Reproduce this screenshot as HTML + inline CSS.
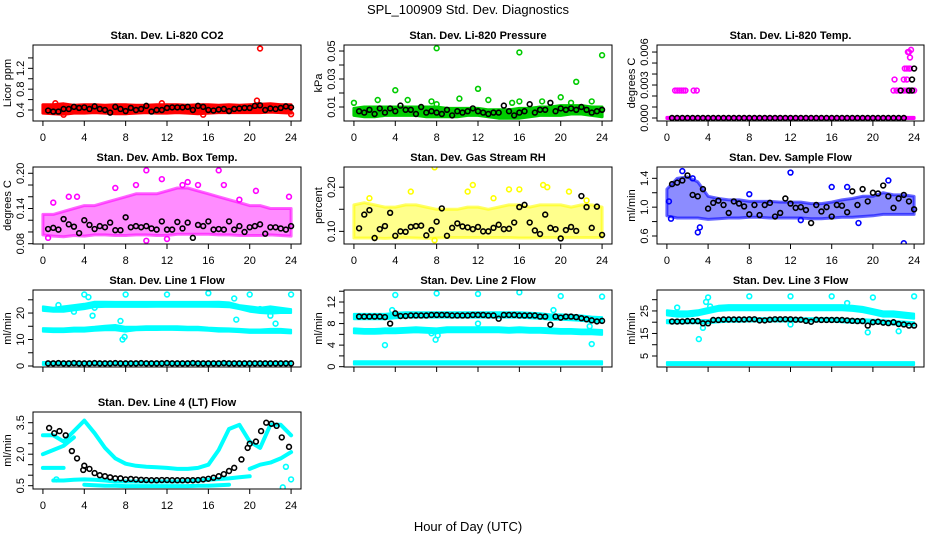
<!DOCTYPE html>
<html><head><meta charset="utf-8"><style>
html,body{margin:0;padding:0;background:#fff;}
svg{display:block;font-family:"Liberation Sans",Arial,sans-serif;}
</style></head><body>
<svg id="chart" width="936" height="540" viewBox="0 0 936 540" xmlns="http://www.w3.org/2000/svg">
<rect x="0" y="0" width="936" height="540" fill="#fff"/>
<text x="468" y="14" text-anchor="middle" font-size="13">SPL_100909  Std. Dev. Diagnostics</text>
<text x="468" y="531" text-anchor="middle" font-size="13">Hour of Day (UTC)</text>
</svg>
<script>
// ---- data (hourly envelope arrays 0..24, half-hour black series 0.5..24) ----
const xTicks = [0,4,8,12,16,20,24];
const co2Lo = [0.34,0.33,0.32,0.34,0.34,0.35,0.34,0.33,0.33,0.34,0.35,0.34,0.34,0.35,0.34,0.33,0.34,0.35,0.35,0.35,0.35,0.35,0.36,0.35,0.34];
const co2Hi = [0.5,0.5,0.52,0.49,0.5,0.5,0.49,0.5,0.5,0.49,0.49,0.5,0.5,0.5,0.49,0.5,0.5,0.49,0.5,0.49,0.5,0.51,0.52,0.5,0.5];
const co2Out = [[21,1.58],[20.7,0.58],[1.2,0.53],[11.5,0.53],[24,0.32],[2,0.31],[15.5,0.31]];
const co2Black = [0.39,0.37,0.37,0.42,0.42,0.46,0.44,0.45,0.42,0.47,0.42,0.4,0.35,0.46,0.42,0.38,0.44,0.4,0.42,0.48,0.37,0.4,0.4,0.44,0.45,0.45,0.45,0.46,0.4,0.48,0.46,0.4,0.39,0.41,0.42,0.38,0.42,0.43,0.44,0.44,0.48,0.49,0.4,0.43,0.42,0.44,0.47,0.45];

const presLo = [0.004,0.003,0.003,0.004,0.004,0.004,0.004,0.003,0.003,0.003,0.003,0.004,0.004,0.003,0.002,0.002,0.002,0.003,0.004,0.004,0.004,0.005,0.005,0.004,0.003];
const presHi = [0.009,0.010,0.010,0.010,0.010,0.010,0.010,0.010,0.010,0.009,0.009,0.009,0.009,0.008,0.008,0.008,0.009,0.009,0.010,0.010,0.011,0.011,0.011,0.010,0.010];
const presOut = [[8,0.052],[16,0.049],[24,0.047],[21.5,0.028],[4,0.022],[12,0.023],[0,0.013],[2.3,0.015],[5.2,0.015],[7.5,0.014],[10.2,0.016],[13,0.015],[15.3,0.013],[16,0.014],[18.2,0.014],[20,0.017],[23,0.014],[8,0.012],[21,0.013]];
const presBlack = [0.007,0.006,0.008,0.005,0.009,0.006,0.009,0.007,0.011,0.008,0.008,0.005,0.010,0.006,0.007,0.006,0.005,0.008,0.004,0.007,0.006,0.007,0.009,0.007,0.006,0.005,0.006,0.006,0.011,0.007,0.004,0.006,0.007,0.012,0.006,0.008,0.008,0.013,0.007,0.009,0.008,0.009,0.008,0.010,0.008,0.006,0.007,0.008];

const tempLo = [-0.00005,-0.00005,-0.00005,-0.00005,-0.00005,-0.00005,-0.00005,-0.00005,-0.00005,-0.00005,-0.00005,-0.00005,-0.00005,-0.00005,-0.00005,-0.00005,-0.00005,-0.00005,-0.00005,-0.00005,-0.00005,-0.00005,-0.00005,-0.00005,-0.00005];
const tempHi = [0.00005,0.00005,0.00005,0.00005,0.00005,0.00005,0.00005,0.00005,0.00005,0.00005,0.00005,0.00005,0.00005,0.00005,0.00005,0.00005,0.00005,0.00005,0.00005,0.00005,0.00005,0.00005,0.00005,0.00005,0.00005];
const tempOut = [[0.8,0.0025],[1,0.0025],[1.2,0.0025],[1.4,0.0025],[1.6,0.0025],[1.8,0.0025],[2.6,0.0025],[2.9,0.0025],[22,0.0025],[22.3,0.0025],[22.6,0.0025],[23,0.0025],[23.3,0.0025],[23.6,0.0025],[24,0.0025],[22.1,0.0035],[23,0.0035],[23.3,0.0035],[23.1,0.0045],[23.3,0.0045],[23.5,0.0045],[23.6,0.0045],[23.6,0.0055],[23.5,0.006],[23.7,0.0062],[23.4,0.006]];
const tempBlack = [0,0,0,0,0,0,0,0,0,0,0,0,0,0,0,0,0,0,0,0,0,0,0,0,0,0,0,0,0,0,0,0,0,0,0,0,0,0,0,0,0,0,0,0,0,0,0.0025,0.0045];
const tempBlackExtra = [[22.7,0.0025],[23.8,0.0035],[23.8,0.0025]];

const ambLo = [0.095,0.093,0.092,0.094,0.093,0.095,0.095,0.094,0.094,0.095,0.095,0.094,0.094,0.096,0.096,0.096,0.096,0.095,0.095,0.094,0.094,0.094,0.095,0.094,0.093];
const ambHi = [0.13,0.13,0.135,0.14,0.145,0.145,0.15,0.155,0.16,0.165,0.165,0.165,0.17,0.175,0.175,0.17,0.165,0.16,0.155,0.15,0.145,0.145,0.14,0.14,0.14];
const ambOut = [[10,0.205],[17,0.205],[1,0.15],[2.5,0.16],[3.3,0.16],[10,0.085],[12,0.088],[23.8,0.16],[9,0.18],[14,0.185],[17.5,0.18],[20.6,0.17],[13.5,0.18],[11.5,0.19],[15,0.18],[7,0.175],[19,0.155],[0.5,0.09]];
const ambBlack = [0.105,0.107,0.104,0.122,0.113,0.109,0.098,0.12,0.112,0.105,0.11,0.108,0.116,0.103,0.103,0.125,0.108,0.11,0.108,0.11,0.106,0.104,0.118,0.104,0.104,0.117,0.106,0.116,0.09,0.112,0.11,0.118,0.104,0.105,0.104,0.118,0.104,0.11,0.1,0.108,0.11,0.113,0.097,0.108,0.108,0.106,0.104,0.11];

const rhLo = [0.085,0.085,0.085,0.084,0.085,0.086,0.085,0.084,0.085,0.086,0.086,0.086,0.086,0.086,0.086,0.086,0.085,0.085,0.086,0.086,0.086,0.086,0.086,0.086,0.086];
const rhHi = [0.16,0.165,0.16,0.155,0.155,0.16,0.16,0.155,0.15,0.15,0.15,0.155,0.155,0.15,0.155,0.16,0.16,0.155,0.16,0.16,0.16,0.155,0.16,0.16,0.155];
const rhOut = [[7.8,0.245],[11.5,0.205],[5.5,0.19],[18.3,0.205],[15,0.195],[20.8,0.19],[1.5,0.175],[13.5,0.175],[7.8,0.08],[2,0.085],[22.5,0.17],[16,0.195],[11,0.19],[18.7,0.2]];
const rhBlack = [0.107,0.138,0.148,0.085,0.105,0.112,0.142,0.09,0.1,0.099,0.11,0.112,0.113,0.091,0.103,0.122,0.152,0.09,0.108,0.118,0.111,0.109,0.105,0.11,0.1,0.1,0.108,0.115,0.105,0.106,0.12,0.155,0.16,0.12,0.102,0.094,0.138,0.108,0.105,0.084,0.103,0.11,0.101,0.18,0.155,0.108,0.156,0.092];

const sfLo = [0.88,0.85,0.85,0.85,0.83,0.84,0.85,0.85,0.86,0.86,0.85,0.85,0.85,0.85,0.84,0.84,0.85,0.86,0.86,0.87,0.88,0.9,0.9,0.9,0.9];
const sfHi = [1.25,1.4,1.42,1.35,1.15,1.12,1.1,1.1,1.08,1.08,1.08,1.07,1.07,1.07,1.05,1.05,1.07,1.1,1.12,1.15,1.15,1.2,1.17,1.17,1.15];
const sfOut = [[12,1.48],[23,0.5],[3,0.65],[3.2,0.72],[1.5,1.5],[16,1.28],[21.5,1.37],[0.4,0.84],[8,1.18],[17.5,1.28],[2.5,1.4],[0.2,1.08],[13,0.82],[18.6,0.78]];
const sfBlack = [1.32,1.34,1.37,1.44,1.17,1.15,1.25,0.98,1.06,1.09,1.03,0.92,1.08,1.05,1.01,0.9,1.03,0.89,1.03,1.06,0.87,0.92,1.12,1.05,0.99,1.0,0.96,0.78,1.03,0.94,1.0,0.87,1.03,1.02,0.93,1.22,1.03,1.25,1.08,1.2,1.19,1.3,1.15,0.99,1.12,1.17,1.08,0.97];

const l1TopLo = [20.8,20.5,20.5,21,21.5,22.2,22.3,22.3,22.3,22.3,22.3,22.4,22.4,22.4,22.4,22.4,22.4,22.3,22.2,21.5,20.5,20,19.8,20,20];
const l1TopHi = [22.5,22,22.5,23,23.5,24.3,24.3,24.2,24.2,24.2,24.2,24.2,24.2,24.2,24.2,24.2,24.2,24.3,24,23,22.5,22,22.5,22,21.5];
const l1MidLo = [13,12.8,12.8,13,13,13.3,13.5,13.5,13,13.5,13.6,13.6,13.7,13.6,13.5,13.5,13.3,13,13,12.8,12.5,12.5,12.5,12.5,12.3];
const l1MidHi = [14.3,14.2,14.2,14.5,14.5,14.8,15.2,15.5,14.8,14.8,15,15,15,15,14.8,14.8,14.5,14.3,14.2,14,13.8,13.8,14,14,13.7];
const l1BotLo = [0.4,0.4,0.4,0.4,0.4,0.4,0.4,0.4,0.4,0.4,0.4,0.4,0.4,0.4,0.4,0.4,0.4,0.4,0.4,0.4,0.4,0.4,0.4,0.4,0.4];
const l1BotHi = [1.5,1.5,1.5,1.5,1.5,1.5,1.5,1.5,1.5,1.5,1.5,1.5,1.5,1.5,1.5,1.5,1.5,1.5,1.5,1.5,1.5,1.5,1.5,1.5,1.5];
const l1Out = [[4,27],[8,27],[12,27],[16,27.5],[20,27],[24,27],[18.5,25.5],[4.4,26],[5,22],[4.8,19],[7.5,17],[7.7,10],[7.9,11],[18.7,17.5],[22.5,16],[22,19],[21,21.5],[1.5,23],[3,20.5]];
const l1Black = [1,1,1.1,1,1,1.1,1,1,1,1.1,1,1,1,1.1,1,1,1,1,1.1,1,1,1,1,1.1,1,1,1,1,1.1,1,1,1,1,1,1.1,1,1,1,1,1,1,1,1,1,1,1,1,1];

const l2TopLo = [8.8,8.8,8.8,8.8,9.0,9.1,9.1,9.1,9.1,9.1,9.1,9.1,9.1,9.1,9.1,9.1,9.1,9.0,8.9,8.7,8.7,8.6,8.5,8.3,8.2];
const l2TopHi = [9.8,9.8,9.8,9.8,10.0,10.1,10.1,10.1,10.1,10.1,10.1,10.1,10.1,10.1,10.1,10.1,10.1,10.0,9.9,9.7,9.7,9.6,9.5,9.3,9.2];
const l2MidLo = [6.2,6.1,6.1,6.2,6.2,6.3,6.4,6.3,6.2,6.4,6.4,6.4,6.4,6.4,6.4,6.3,6.4,6.3,6.3,6.2,6.1,6.1,6,6,5.9];
const l2MidHi = [7.1,7.0,7.0,7.1,7.1,7.2,7.3,7.2,7.1,7.3,7.3,7.3,7.3,7.3,7.3,7.2,7.3,7.2,7.2,7.1,7.0,7.0,6.9,6.9,6.8];
const l2BotLo = [0.4,0.4,0.4,0.4,0.4,0.4,0.4,0.4,0.4,0.4,0.4,0.4,0.4,0.4,0.4,0.4,0.4,0.4,0.4,0.4,0.4,0.4,0.4,0.4,0.4];
const l2BotHi = [1,1,1,1,1,1,1,1,1,1,1,1,1,1,1,1,1,1,1,1,1,1,1,1,1];
const l2Out = [[4,13.3],[8,13.6],[12,13.5],[16,13.8],[20,13.1],[24,13],[3,4],[7.9,5],[8.1,5.8],[23,4.2],[19.3,10.5],[12,8],[22.8,7.5],[3.7,10.5],[7.5,6.2]];
const l2Black = [9.3,9.3,9.3,9.3,9.3,9.2,8.0,9.9,9.4,9.4,9.5,9.5,9.5,9.5,9.6,9.6,9.6,9.6,9.5,9.5,9.5,9.5,9.6,9.6,9.6,9.5,9.5,8.9,9.6,9.6,9.6,9.5,9.5,9.5,9.5,9.3,9.3,7.8,9.3,9.1,9.3,9.3,9.2,9.0,8.8,8.6,8.4,8.5];

const l3TopLo = [23,22.5,22.5,23,24,25,25.3,25.3,25.3,25.3,25.3,25.3,25.3,25.3,25.3,25.3,25.3,25.3,25,24.5,23.5,22.5,22.5,22,21.5];
const l3TopHi = [25.3,24.8,24.8,25.3,26.3,27.3,27.6,27.6,27.6,27.6,27.6,27.6,27.6,27.6,27.6,27.6,27.6,27.6,27.3,26.8,25.8,24.8,24.8,24.3,23.8];
const l3MidLo = [19.5,19.5,19.5,19.5,19.5,20,20.2,20.2,20.3,20.3,20.3,20.3,20.3,20.3,20.3,20.3,20.3,20,19.8,19.8,19.6,19.4,19,18.8,18.5];
const l3MidHi = [21,21,21,21,21,21.5,21.7,21.7,21.8,21.8,21.8,21.8,21.8,21.8,21.8,21.8,21.8,21.5,21.3,21.3,21.1,20.9,20.5,20.3,20];
const l3BotLo = [1,1,1,1,1,1,1,1,1,1,1,1,1,1,1,1,1,1,1,1,1,1,1,1,1];
const l3BotHi = [2.3,2.3,2.3,2.3,2.3,2.3,2.3,2.3,2.3,2.3,2.3,2.3,2.3,2.3,2.3,2.3,2.3,2.3,2.3,2.3,2.3,2.3,2.3,2.3,2.3];
const l3Out = [[4,31],[8,31.5],[12,31.5],[16,31.5],[20,31],[24,31.5],[3.1,12.5],[3.5,17.5],[19.5,15.5],[22.5,16],[3.8,29],[1,26.5],[17.5,28.5],[12,19],[4.2,27]];
const l3Black = [20.3,20.3,20.3,20.5,20.5,20.5,19.5,19.5,21,21,21.2,21.2,21.2,21.2,21.2,21.3,21.3,20.8,20.8,21.1,21.3,21.3,21.3,21.3,21.1,21.1,20.6,20.2,21.1,21,21,21,21,21,20.8,20.6,20.5,20.5,18.5,20,20.2,19.8,19.6,20,19.2,19,18.5,18.5];

const l4TraceA = [2.9,2.9,2.6,3.1,3.6,3.0,2.3,1.8,1.55,1.45,1.4,1.38,1.35,1.3,1.3,1.35,1.5,2.2,3.2,3.4,2.6,2.3,3.4,3.4,2.9];
const l4TraceB = [2.0,2.2,2.4,2.8,null,null,null,null,null,null,null,null,null,null,null,null,null,null,null,null,null,null,null,null,null];
const l4TraceC = [1.35,1.35,1.35,null,null,null,null,null,null,null,null,null,null,null,null,null,null,null,null,null,null,null,null,null,null];
const l4TraceD = [null,0.75,0.75,0.78,0.8,0.78,0.75,0.7,0.7,0.7,0.7,0.7,0.7,0.7,0.72,0.75,0.78,0.82,0.85,0.9,0.95,null,null,null,null];
const l4TraceE = [null,null,null,null,0.55,0.52,0.5,0.5,0.48,0.48,0.48,0.48,0.48,0.48,0.48,0.5,0.5,0.52,0.55,null,null,null,null,null,null];
const l4TraceF = [null,null,null,null,null,null,null,null,null,null,null,null,null,null,null,null,null,null,null,null,1.3,1.5,1.6,1.8,2.1];
const l4Out = [[23.2,0.42],[24,0.8],[1.3,0.8],[23.5,1.4]];
const l4BlackX = [0.6,1.1,1.6,2.2,2.8,3.3,3.9,4,4.5,5,5.5,6,6.5,7,7.5,8,8.5,9,9.5,10,10.5,11,11.5,12,12.5,13,13.5,14,14.5,15,15.5,16,16.5,17,17.5,18,18.5,19.2,19.8,20,20.6,21.1,21.6,22.1,22.6,23.1,23.8];
const l4BlackY = [3.25,3.0,3.1,2.9,2.15,1.8,1.25,1.45,1.3,1.1,1.0,0.95,0.9,0.85,0.85,0.8,0.82,0.8,0.78,0.77,0.76,0.76,0.77,0.77,0.76,0.76,0.76,0.76,0.76,0.77,0.8,0.83,0.88,0.95,1.05,1.2,1.35,1.75,2.3,2.5,2.6,3.1,3.5,3.45,3.35,2.8,2.35];

// ---- drawing ----
const NS = 'http://www.w3.org/2000/svg';
const svg = document.getElementById('chart');
function mk(tag, attrs, parent){ const e=document.createElementNS(NS,tag); for(const k in attrs) e.setAttribute(k,attrs[k]); (parent||svg).appendChild(e); return e; }
const hours = []; for(let h=0;h<=24;h++) hours.push(h);
const halfHours = []; for(let i=1;i<=48;i++) halfHours.push(i*0.5);

const COLS=[[33,301],[344,612],[657,924]];
const ROWS=[[45,121],[167,244],[290,367],[412,489]];

const panels = [
 {id:'co2',title:'Stan. Dev. Li-820 CO2',ylab:'Licor ppm',c:0,r:0,dom:[0.189,1.648],ticks:[0.4,0.6,0.8,1.0,1.2,1.4],labels:[0.4,0.8,1.2],fmt:1,color:'#ff0000',bands:[[co2Lo,co2Hi]],out:co2Out,black:co2Black},
 {id:'pressure',title:'Stan. Dev. Li-820 Pressure',ylab:'kPa',c:1,r:0,dom:[0.0,0.0543],ticks:[0.01,0.02,0.03,0.04,0.05],labels:[0.01,0.03,0.05],fmt:2,color:'#00cc00',bands:[[presLo,presHi]],out:presOut,black:presBlack},
 {id:'temp',title:'Stan. Dev. Li-820 Temp.',ylab:'degrees C',c:2,r:0,dom:[-0.000273,0.00664],ticks:[0,0.001,0.002,0.003,0.004,0.005,0.006],labels:[0,0.003,0.006],fmt:3,color:'#ff00ff',bands:[[tempLo,tempHi]],out:tempOut,black:tempBlack,extra:tempBlackExtra},
 {id:'amb-box-temp',title:'Stan. Dev. Amb. Box Temp.',ylab:'degrees C',c:0,r:1,dom:[0.0795,0.2107],ticks:[0.08,0.10,0.12,0.14,0.16,0.18,0.20],labels:[0.08,0.14,0.20],fmt:2,color:'#ff00ff',bands:[[ambLo,ambHi]],out:ambOut,black:ambBlack,sparse:true},
 {id:'gas-stream-rh',title:'Stan. Dev. Gas Stream RH',ylab:'percent',c:1,r:1,dom:[0.0714,0.2457],ticks:[0.10,0.15,0.20],labels:[0.10,0.20],fmt:2,color:'#ffff00',bands:[[rhLo,rhHi]],out:rhOut,black:rhBlack,sparse:true},
 {id:'sample-flow',title:'Stan. Dev. Sample Flow',ylab:'ml/min',c:2,r:1,dom:[0.489,1.557],ticks:[0.6,0.8,1.0,1.2,1.4],labels:[0.6,1.0,1.4],fmt:1,color:'#0000ff',bands:[[sfLo,sfHi]],out:sfOut,black:sfBlack,sparse:true},
 {id:'line1-flow',title:'Stan. Dev. Line 1 Flow',ylab:'ml/min',c:0,r:2,dom:[-0.38,28.7],ticks:[0,5,10,15,20,25],labels:[0,10,20],fmt:0,color:'#00ffff',bands:[[l1TopLo,l1TopHi],[l1MidLo,l1MidHi],[l1BotLo,l1BotHi]],out:l1Out,black:l1Black,thin:true},
 {id:'line2-flow',title:'Stan. Dev. Line 2 Flow',ylab:'ml/min',c:1,r:2,dom:[-0.06,14.23],ticks:[0,2,4,6,8,10,12,14],labels:[0,4,8,12],fmt:0,color:'#00ffff',bands:[[l2TopLo,l2TopHi],[l2MidLo,l2MidHi],[l2BotLo,l2BotHi]],out:l2Out,black:l2Black,thin:true},
 {id:'line3-flow',title:'Stan. Dev. Line 3 Flow',ylab:'ml/min',c:2,r:2,dom:[0.11,34.3],ticks:[5,10,15,20,25,30],labels:[5,15,25],fmt:0,color:'#00ffff',bands:[[l3TopLo,l3TopHi],[l3MidLo,l3MidHi],[l3BotLo,l3BotHi]],out:l3Out,black:l3Black,thin:true},
 {id:'line4-flow',title:'Stan. Dev. Line 4 (LT) Flow',ylab:'ml/min',c:0,r:3,dom:[0.343,4.01],ticks:[0.5,1.0,1.5,2.0,2.5,3.0,3.5],labels:[0.5,2.0,3.5],fmt:1,color:'#00ffff',bands:[],traces:[l4TraceA,l4TraceB,l4TraceC,l4TraceD,l4TraceE,l4TraceF],out:l4Out,blackX:l4BlackX,blackY:l4BlackY}
];

panels.forEach(p=>{
  const [x0,x1]=COLS[p.c], [y0,y1]=ROWS[p.r];
  const xs = v => x0 + (v+0.96)/25.92*(x1-x0);
  const ys = v => y1 - (v-p.dom[0])/(p.dom[1]-p.dom[0])*(y1-y0);
  const g = mk('g',{});
  
  
  const clipId='clip-'+p.id;
  const cp=mk('clipPath',{id:clipId},g); mk('rect',{x:x0,y:y0,width:x1-x0,height:y1-y0},cp);
  const plot=mk('g',{'clip-path':'url(#'+clipId+')'},g);
  p.bands.forEach((b,bi)=>{
    let pts=[]; hours.forEach((h,i)=>pts.push(xs(h).toFixed(1)+','+ys(b[1][i]).toFixed(1)));
    for(let i=hours.length-1;i>=0;i--) pts.push(xs(hours[i]).toFixed(1)+','+ys(b[0][i]).toFixed(1));
    const poly=mk('polygon',{points:pts.join(' '),fill:p.color,'fill-opacity':p.sparse?0.45:1,stroke:p.color,'stroke-opacity':p.sparse?0.6:1,'stroke-width':p.thin?2:3,'stroke-linejoin':'round'},plot);
    
    
  });
  (p.traces||[]).forEach((t,ti)=>{
    let seg=[]; const segs=[];
    t.forEach((v,i)=>{ if(v==null){ if(seg.length) segs.push(seg); seg=[]; } else seg.push(xs(hours[i]).toFixed(1)+','+ys(v).toFixed(1)); });
    if(seg.length) segs.push(seg);
    segs.forEach(s=>{
      const pl=mk('polyline',{points:s.join(' '),fill:'none',stroke:p.color,'stroke-width':4,'stroke-linecap':'round','stroke-linejoin':'round'},plot);
      
      
    });
  });
  p.out.forEach(o=>{
    const c=mk('circle',{cx:xs(o[0]),cy:ys(o[1]),r:2.4,fill:'none',stroke:p.color,'stroke-width':1.6},plot);
    
    
  });
  const bx = p.blackX || halfHours, by = p.blackY || p.black;
  by.forEach((v,i)=>{
    const c=mk('circle',{cx:xs(bx[i]),cy:ys(v),r:2.4,fill:'none',stroke:'#000','stroke-width':1.6},plot);
    
    
  });
  (p.extra||[]).forEach(o=>{
    const c=mk('circle',{cx:xs(o[0]),cy:ys(o[1]),r:2.4,fill:'none',stroke:'#000','stroke-width':1.6},plot);
    
    
  });
  const box=mk('rect',{x:x0,y:y0,width:x1-x0,height:y1-y0,fill:'none',stroke:'#000','stroke-width':1},g);
  
  
  const t=mk('text',{x:(x0+x1)/2,y:y0-6,'text-anchor':'middle','font-size':11,'font-weight':'bold'},g); t.textContent=p.title;
  
  
  mk('line',{x1:xs(0),x2:xs(24),y1:y1,y2:y1,stroke:'#000'},g);
  xTicks.forEach(v=>{
    mk('line',{x1:xs(v),x2:xs(v),y1:y1,y2:y1+5,stroke:'#000'},g);
    if(p.r===0||p.r===1||p.r===3){
      const l=mk('text',{x:xs(v),y:y1+20,'text-anchor':'middle','font-size':11},g); l.textContent=v;
      
      
    }
  });
  mk('line',{x1:x0,x2:x0,y1:ys(p.ticks[0]),y2:ys(p.ticks[p.ticks.length-1]),stroke:'#000'},g);
  p.ticks.forEach(v=>mk('line',{x1:x0-5,x2:x0,y1:ys(v),y2:ys(v),stroke:'#000'},g));
  p.labels.forEach(v=>{
    const yy=ys(v), xx=x0-9;
    const l=mk('text',{x:xx,y:yy,'text-anchor':'middle','font-size':11,transform:'rotate(-90 '+xx+' '+yy+')'},g);
    l.textContent=v.toFixed(p.fmt);
    
    
  });
  const ly=(y0+y1)/2, lx=x0-22;
  const yl=mk('text',{x:lx,y:ly,'text-anchor':'middle','font-size':11,transform:'rotate(-90 '+lx+' '+ly+')'},g); yl.textContent=p.ylab;
  
  
});
</script>
</body></html>
